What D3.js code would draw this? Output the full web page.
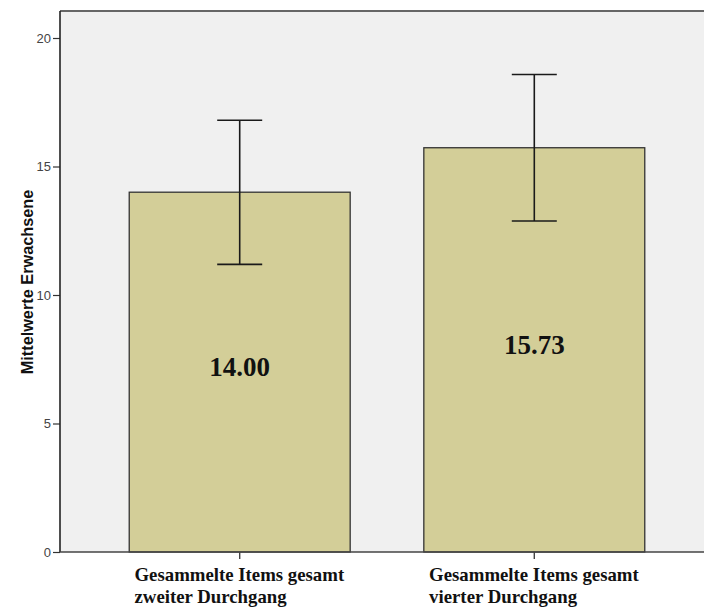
<!DOCTYPE html>
<html>
<head>
<meta charset="utf-8">
<script src="https://cdn.jsdelivr.net/npm/d3@7"></script>
<style>
  html, body { margin: 0; padding: 0; background: #ffffff; }
  svg { display: block; }
</style>
</head>
<body>
<svg id="chart" width="704" height="612"></svg>
<script>
// ---- data ----
const categories = [
  ["Gesammelte Items gesamt", "zweiter Durchgang"],
  ["Gesammelte Items gesamt", "vierter Durchgang"]
];
const means = [14.00, 15.73];
const upper = [16.80, 18.58];
const lower = [11.19, 12.88];
const valueLabels = ["14.00", "15.73"];
const yTicks = [0, 5, 10, 15, 20];
const yTitle = "Mittelwerte Erwachsene";

// ---- layout ----
const svg = d3.select("#chart");
const plot = { left: 60, top: 11, right: 714, bottom: 552 };

const x = d3.scaleBand()
  .domain(d3.range(categories.length))
  .range([plot.left, plot.right])
  .paddingInner(0.25)
  .paddingOuter(0.235);

const y = d3.scaleLinear()
  .domain([0, 20])
  .range([plot.bottom, 38]);

// plot background
svg.append("rect")
  .attr("x", plot.left).attr("y", plot.top)
  .attr("width", plot.right - plot.left)
  .attr("height", plot.bottom - plot.top)
  .attr("fill", "#f0f0f0");

// top border
svg.append("line")
  .attr("x1", plot.left).attr("x2", 704)
  .attr("y1", plot.top).attr("y2", plot.top)
  .attr("stroke", "#666").attr("stroke-width", 2);

// bars
svg.selectAll("rect.bar").data(means).enter().append("rect")
  .attr("class", "bar")
  .attr("x", (d, i) => x(i))
  .attr("y", d => y(d))
  .attr("width", x.bandwidth())
  .attr("height", d => y(0) - y(d))
  .attr("fill", "#d3ce98")
  .attr("stroke", "#333")
  .attr("stroke-width", 1.3);

// error bars
const capW = 45;
means.forEach((m, i) => {
  const cx = x(i) + x.bandwidth() / 2;
  const g = svg.append("g").attr("stroke", "#1a1a1a").attr("stroke-width", 1.6);
  g.append("line").attr("x1", cx).attr("x2", cx).attr("y1", y(upper[i])).attr("y2", y(lower[i]));
  g.append("line").attr("x1", cx - capW / 2).attr("x2", cx + capW / 2).attr("y1", y(upper[i])).attr("y2", y(upper[i]));
  g.append("line").attr("x1", cx - capW / 2).attr("x2", cx + capW / 2).attr("y1", y(lower[i])).attr("y2", y(lower[i]));
});

// value labels
svg.selectAll("text.val").data(means).enter().append("text")
  .attr("class", "val")
  .attr("x", (d, i) => x(i) + x.bandwidth() / 2)
  .attr("y", d => (y(d) + y(0)) / 2 + 4)
  .attr("text-anchor", "middle")
  .attr("font-family", "'Liberation Serif', 'Times New Roman', serif")
  .attr("font-weight", "bold")
  .attr("font-size", 27)
  .attr("fill", "#111")
  .text((d, i) => valueLabels[i]);

// y axis
const yAxis = d3.axisLeft(y).tickValues(yTicks).tickSize(7).tickPadding(2).tickFormat(d3.format("d"));
const yg = svg.append("g").attr("transform", `translate(${plot.left},0)`).call(yAxis);
yg.select(".domain").remove();
yg.selectAll(".tick line").attr("stroke", "#333").attr("stroke-width", 1.2);
yg.selectAll(".tick text")
  .attr("font-family", "Arial, 'Liberation Sans', sans-serif")
  .attr("font-size", 13)
  .attr("fill", "#444");
svg.append("line")
  .attr("x1", plot.left).attr("x2", plot.left)
  .attr("y1", plot.top).attr("y2", plot.bottom)
  .attr("stroke", "#222").attr("stroke-width", 1.6);

// x axis
svg.append("line")
  .attr("x1", plot.left).attr("x2", 704)
  .attr("y1", plot.bottom).attr("y2", plot.bottom)
  .attr("stroke", "#444").attr("stroke-width", 1.6);
const xAxis = d3.axisBottom(x).tickSize(7).tickFormat("");
const xg = svg.append("g").attr("transform", `translate(0,${plot.bottom})`).call(xAxis);
xg.select(".domain").remove();
xg.selectAll(".tick line").attr("stroke", "#444").attr("stroke-width", 1.4);

// category labels (left-aligned block centred on tick)
categories.forEach((lines, i) => {
  const cx = x(i) + x.bandwidth() / 2;
  const t = svg.append("text")
    .attr("font-family", "'Liberation Serif', 'Times New Roman', serif")
    .attr("font-weight", "bold")
    .attr("font-size", 18.8)
    .attr("fill", "#111");
  lines.forEach((ln, k) => {
    t.append("tspan").attr("x", 0).attr("y", 581 + k * 22).text(ln);
  });
  const w = t.node().getBBox().width;
  t.selectAll("tspan").attr("x", cx - w / 2);
});

// y title
svg.append("text")
  .attr("transform", `translate(33,282) rotate(-90)`)
  .attr("text-anchor", "middle")
  .attr("font-family", "Arial, 'Liberation Sans', sans-serif")
  .attr("font-weight", "bold")
  .attr("font-size", 16.3)
  .attr("fill", "#111")
  .text(yTitle);
</script>
</body>
</html>
